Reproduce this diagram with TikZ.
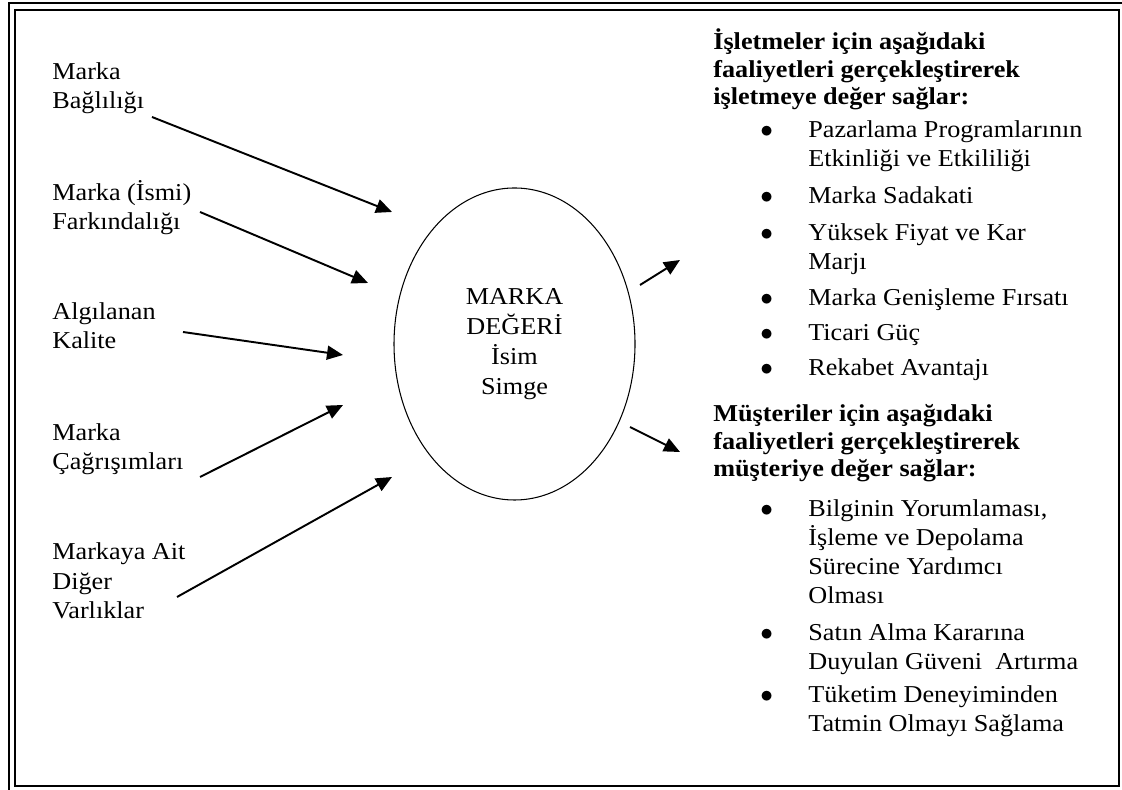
\documentclass[tikz,border=0pt]{standalone}
\usepackage{fontspec}
\setmainfont[FakeStretch=1.08]{Liberation Serif}
\usetikzlibrary{arrows.meta,shapes.geometric}

% bullet item: dot in a fixed column, text lines after it
\newcommand{\bitem}[1]{\begin{tabular}[t]{@{}p{0.96cm}@{}l@{}}$\bullet$ & #1\end{tabular}}

\begin{document}
\begin{tikzpicture}[
  lbl/.style={anchor=base west, align=left, inner sep=0pt, font={\fontsize{13.8}{17}\selectfont}},
  hdr/.style={anchor=base west, align=left, inner sep=0pt, font={\fontsize{13.8}{15.9}\selectfont\bfseries}},
  itm/.style={anchor=base west, inner sep=0pt, font={\fontsize{13.8}{16.5}\selectfont}},
  arr/.style={line width=1.1pt, -{Triangle[length=0.32cm,width=0.28cm]}},
]
  \useasboundingbox (0,0) rectangle (22.44,15.8);
  % frame
  \draw[line width=1.2pt] (0.18,0) -- (0.18,15.74) -- (22.44,15.74);
  \draw[line width=1.4pt] (0.30,0.08) rectangle (22.38,15.60);
  % centre
  \node[ellipse, draw, line width=0.6pt, minimum width=4.82cm, minimum height=6.24cm,
        inner sep=0pt, align=center, font={\fontsize{13.8}{17}\selectfont}]
        (deger) at (10.29,8.92) {MARKA\\DEĞERİ\\İsim\\Simge};
  % left side (base = last line)
  \node[lbl] (bag) at (1.04,13.62) {Marka\\Bağlılığı};
  \node[lbl] (fark) at (1.04,11.20) {Marka (İsmi)\\Farkındalığı};
  \node[lbl] (kalite) at (1.04,8.82) {Algılanan\\Kalite};
  \node[lbl] (cagr) at (1.04,6.40) {Marka\\Çağrışımları};
  \node[lbl] (varlik) at (1.04,3.42) {Markaya Ait\\Diğer\\Varlıklar};
  \coordinate (bagS) at (3.04,13.46);   \coordinate (bagE) at (7.84,11.56);
  \coordinate (farkS) at (4.00,11.56);  \coordinate (farkE) at (7.36,10.14);
  \coordinate (kalS) at (3.66,9.16);    \coordinate (kalE) at (6.86,8.70);
  \coordinate (cagS) at (4.00,6.26);    \coordinate (cagE) at (6.86,7.70);
  \coordinate (varS) at (3.54,3.86);    \coordinate (varE) at (7.84,6.26);
  \draw[arr] (bagS) -- (bagE);
  \draw[arr] (farkS) -- (farkE);
  \draw[arr] (kalS) -- (kalE);
  \draw[arr] (cagS) -- (cagE);
  \draw[arr] (varS) -- (varE);
  % right side: firms
  \coordinate (isS) at (12.80,10.10);   \coordinate (isE) at (13.60,10.60);
  \draw[arr] (isS) -- (isE);
  \node[hdr] (isletme) at (14.26,13.70) {İşletmeler için aşağıdaki\\faaliyetleri gerçekleştirerek\\işletmeye değer sağlar:};
  \node[itm] (i1) at (15.20,13.04) {\bitem{Pazarlama Programlarının\\ & Etkinliği ve Etkililiği}};
  \node[itm] (i2) at (15.20,11.72) {\bitem{Marka Sadakati}};
  \node[itm] (i3) at (15.20,10.99) {\bitem{Yüksek Fiyat ve Kar\\ & Marjı}};
  \node[itm] (i4) at (15.20,9.69) {\bitem{Marka Genişleme Fırsatı}};
  \node[itm] (i5) at (15.20,8.98) {\bitem{Ticari Güç}};
  \node[itm] (i6) at (15.20,8.28) {\bitem{Rekabet Avantajı}};
  % right side: customers
  \coordinate (muS) at (12.60,7.26);    \coordinate (muE) at (13.60,6.76);
  \draw[arr] (muS) -- (muE);
  \node[hdr] (musteri) at (14.26,6.26) {Müşteriler için aşağıdaki\\faaliyetleri gerçekleştirerek\\müşteriye değer sağlar:};
  \node[itm] (m1) at (15.20,5.46) {\bitem{Bilginin Yorumlaması,\\ & İşleme ve Depolama\\ & Sürecine Yardımcı\\ & Olması}};
  \node[itm] (m2) at (15.20,2.98) {\bitem{Satın Alma Kararına\\ & Duyulan Güveni~ Artırma}};
  \node[itm] (m3) at (15.20,1.74) {\bitem{Tüketim Deneyiminden\\ & Tatmin Olmayı Sağlama}};
\end{tikzpicture}
\end{document}
